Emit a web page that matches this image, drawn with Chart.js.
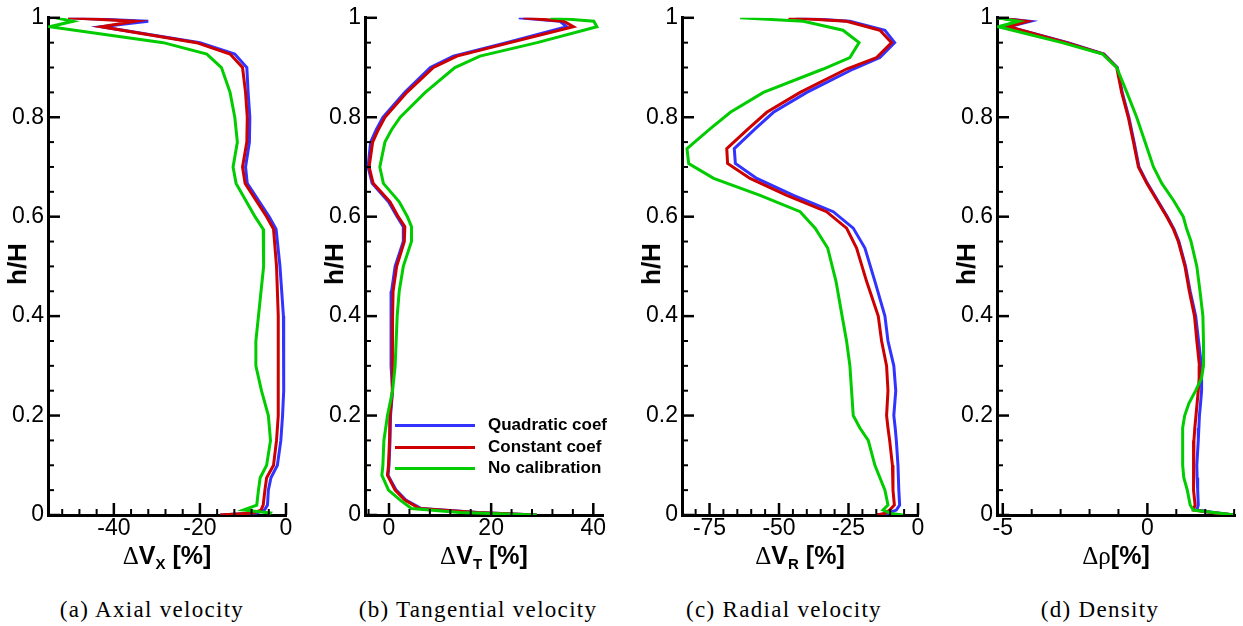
<!DOCTYPE html>
<html>
<head>
<meta charset="utf-8">
<script src="https://cdn.jsdelivr.net/npm/chart.js@4.4.1/dist/chart.umd.min.js"></script>
<style>
  body { margin: 0; background: #fff; }
  #fig { position: relative; width: 1243px; height: 626px; overflow: hidden; font-family: 'Liberation Sans', Arial, sans-serif; color: #000; }
  canvas { position: absolute; top: 0; }
  .ylab { position: absolute; top: 264px; font-weight: bold; font-size: 26px; line-height: 30px; transform: translate(-50%, -50%) rotate(-90deg); white-space: nowrap; }
  .xlab { position: absolute; top: 540px; height: 30px; line-height: 30px; font-weight: bold; font-size: 25px; transform: translateX(-50%); white-space: nowrap; }
  .xlab .g { font-family: 'Liberation Serif', serif; font-weight: normal; }
  .xlab sub { font-size: 15px; vertical-align: -5px; line-height: 0; }
  .cap { position: absolute; top: 597px; line-height: 26px; font-family: 'Liberation Serif', serif; font-size: 23px; letter-spacing: 1.3px; transform: translateX(-50%); white-space: nowrap; }
  .lg-line { position: absolute; left: 395px; width: 80px; height: 3px; }
  .lg-text { position: absolute; left: 488px; height: 20px; line-height: 20px; font-weight: bold; font-size: 17px; white-space: nowrap; }
</style>
</head>
<body>
<div id="fig">
  <canvas id="ca"></canvas>
  <canvas id="cb"></canvas>
  <canvas id="cc"></canvas>
  <canvas id="cd"></canvas>

  <div class="ylab" style="left:17px">h/H</div>
  <div class="ylab" style="left:334px">h/H</div>
  <div class="ylab" style="left:651px">h/H</div>
  <div class="ylab" style="left:966px">h/H</div>

  <div class="xlab" style="left:167px"><span class="g">Δ</span>V<sub>X</sub> [%]</div>
  <div class="xlab" style="left:484px"><span class="g">Δ</span>V<sub>T</sub> [%]</div>
  <div class="xlab" style="left:800px"><span class="g">Δ</span>V<sub>R</sub> [%]</div>
  <div class="xlab" style="left:1116px"><span class="g">Δρ</span>[%]</div>

  <div class="cap" style="left:152px">(a) Axial velocity</div>
  <div class="cap" style="left:478px">(b) Tangential velocity</div>
  <div class="cap" style="left:784px">(c) Radial velocity</div>
  <div class="cap" style="left:1100px">(d) Density</div>

  <div id="legend"></div>
</div>
<script>
// series names / colours
const seriesNames = ['Quadratic coef', 'Constant coef', 'No calibration'];
const seriesColors = ['#3333ff', '#cc0000', '#00cc00'];

const yTicks = [0, 0.2, 0.4, 0.6, 0.8, 1];

// (a) axial velocity
const hAxial = [1, 0.993, 0.982, 0.95, 0.927, 0.9, 0.85, 0.8, 0.75, 0.7, 0.667, 0.6, 0.575, 0.5, 0.45, 0.4, 0.35, 0.3, 0.25, 0.2, 0.15, 0.1, 0.075, 0.05, 0.02, 0.01, 0.004, 0];
const axialQuad = [-50.6, -32.0, -42.9, -20.0, -11.9, -9.1, -8.8, -8.4, -8.5, -9.4, -9.0, -3.9, -2.3, -1.4, -1.0, -0.6, -0.5, -0.5, -0.6, -0.8, -1.2, -2.0, -3.5, -4.1, -4.3, -5.0, -6.8, -15.3];
const axialConst = [-50.6, -35.1, -42.9, -20.8, -13.0, -10.1, -9.4, -9.0, -9.1, -10.1, -9.5, -4.5, -2.9, -2.2, -2.0, -1.8, -1.8, -1.8, -1.8, -1.8, -2.2, -2.9, -4.5, -4.9, -5.3, -5.8, -7.6, -15.3];
const axialNone = [-53.5, -49.5, -54.9, -28.5, -18.4, -15.0, -13.0, -11.9, -11.3, -12.3, -11.6, -7.2, -5.3, -5.2, -5.8, -6.4, -7.0, -7.0, -5.7, -4.1, -3.6, -4.5, -6.0, -6.4, -6.8, -9.9, -3.7, -4.1];
const xTicksAxial = [-40, -20, 0];

// (b) tangential velocity
const hTang = [1, 0.993, 0.982, 0.95, 0.923, 0.9, 0.85, 0.8, 0.775, 0.75, 0.7, 0.667, 0.63, 0.6, 0.58, 0.55, 0.5, 0.45, 0.4, 0.3, 0.25, 0.2, 0.15, 0.1, 0.08, 0.05, 0.03, 0.013, 0.005, 0];
const tangQuad = [25.4, 33.5, 34.8, 23.0, 12.6, 8.1, 3.1, -1.2, -2.5, -3.6, -4.1, -3.3, -0.1, 1.6, 2.8, 2.8, 1.2, 0.5, 0.4, 0.4, 0.7, 0.3, 0.2, 0.0, -0.2, 1.4, 3.3, 6.3, 17.5, 28.9];
const tangConst = [26.3, 34.2, 36.1, 23.7, 13.3, 8.7, 3.5, -0.8, -2.1, -3.2, -3.9, -3.1, 0.2, 1.8, 3.1, 3.0, 1.5, 0.8, 0.7, 0.6, 0.7, 0.2, 0.1, -0.1, -0.3, 1.2, 3.1, 6.0, 17.2, 28.9];
const tangNone = [31.6, 40.1, 40.7, 29.0, 17.8, 12.9, 7.1, 2.2, 0.5, -0.8, -1.8, -1.1, 2.0, 3.6, 4.4, 4.4, 2.8, 2.0, 1.6, 1.2, 0.7, -0.3, -1.0, -1.2, -1.4, -0.1, 2.2, 4.4, 13.9, 28.9];
const xTicksTang = [0, 20, 40];

// (c) radial velocity
const hRad = [1, 0.993, 0.975, 0.95, 0.92, 0.897, 0.85, 0.81, 0.777, 0.737, 0.707, 0.677, 0.643, 0.61, 0.577, 0.537, 0.47, 0.4, 0.35, 0.3, 0.25, 0.2, 0.175, 0.15, 0.1, 0.05, 0.02, 0.01, 0.003, 0];
const radQuad = [-44.0, -24.5, -11.9, -8.4, -13.7, -23.3, -40.0, -52.0, -58.5, -66.1, -65.7, -58.0, -44.8, -30.5, -23.3, -19.1, -15.5, -11.9, -10.8, -8.7, -8.0, -8.7, -8.2, -7.8, -7.2, -6.9, -6.6, -7.8, -11.0, -14.9];
const radConst = [-46.6, -25.7, -13.7, -9.5, -14.9, -25.7, -42.4, -54.4, -61.0, -68.8, -68.5, -60.4, -47.2, -32.9, -25.7, -22.1, -18.5, -14.3, -13.1, -11.3, -10.8, -11.3, -10.8, -10.2, -9.2, -9.0, -8.5, -10.2, -12.0, -14.9];
const radNone = [-64.0, -41.2, -27.0, -21.2, -24.5, -34.1, -55.6, -67.5, -74.7, -83.1, -82.5, -73.5, -56.8, -42.4, -37.0, -32.5, -29.5, -27.3, -25.7, -24.5, -23.9, -23.3, -20.9, -17.9, -15.5, -11.9, -10.8, -12.6, -9.6, -5.4];
const xTicksRad = [-75, -50, -25, 0];

// (d) density
const hDens = [1, 0.993, 0.982, 0.95, 0.927, 0.9, 0.85, 0.8, 0.75, 0.7, 0.667, 0.633, 0.6, 0.575, 0.55, 0.5, 0.45, 0.4, 0.35, 0.3, 0.275, 0.25, 0.225, 0.2, 0.175, 0.15, 0.1, 0.075, 0.05, 0.02, 0.01, 0.005, 0];
const densQuad = [-5.2, -4.06, -4.8, -2.75, -1.5, -1.04, -0.87, -0.64, -0.46, -0.29, 0.0, 0.35, 0.69, 0.92, 1.09, 1.32, 1.48, 1.67, 1.77, 1.87, 1.88, 1.87, 1.84, 1.80, 1.78, 1.76, 1.71, 1.72, 1.74, 1.76, 1.71, 2.3, 3.0];
const densConst = [-5.2, -4.17, -4.8, -2.8, -1.52, -1.06, -0.89, -0.66, -0.48, -0.31, -0.02, 0.33, 0.67, 0.9, 1.07, 1.30, 1.45, 1.63, 1.71, 1.80, 1.79, 1.76, 1.72, 1.68, 1.64, 1.61, 1.59, 1.59, 1.61, 1.65, 1.59, 2.2, 3.0];
const densNone = [-5.2, -4.46, -5.15, -2.95, -1.55, -1.06, -0.71, -0.37, -0.08, 0.21, 0.50, 0.9, 1.24, 1.36, 1.51, 1.71, 1.82, 1.92, 1.94, 1.94, 1.87, 1.67, 1.44, 1.29, 1.22, 1.22, 1.22, 1.26, 1.38, 1.48, 1.59, 2.28, 3.03];
const xTicksDens = [-5, 0];

// ticks drawn inwards, majors on tick values, minors in between
const innerTicks = {
  id: 'innerTicks',
  afterDraw(chart, args, opts) {
    const {ctx, chartArea} = chart;
    const x = chart.scales.x, y = chart.scales.y;
    ctx.save();
    ctx.strokeStyle = '#000';
    function each(scale, step, fn) {
      const majors = scale.ticks.map(t => t.value);
      for (let k = Math.ceil(scale.min / step - 1e-6); k * step <= scale.max + 1e-6; k++) {
        const v = k * step;
        const major = majors.some(m => Math.abs(m - v) < step * 1e-3);
        fn(scale.getPixelForValue(v), major);
      }
    }
    each(x, opts.xMinor, (px, major) => {
      ctx.lineWidth = major ? 2.5 : 2;
      ctx.beginPath();
      ctx.moveTo(px, chartArea.bottom);
      ctx.lineTo(px, chartArea.bottom - (major ? 12 : 6));
      ctx.stroke();
    });
    each(y, opts.yMinor, (py, major) => {
      ctx.lineWidth = major ? 2.5 : 2;
      ctx.beginPath();
      ctx.moveTo(chartArea.left, py);
      ctx.lineTo(chartArea.left + (major ? 12 : 6), py);
      ctx.stroke();
    });
    ctx.restore();
  }
};

Chart.defaults.font.family = "'Liberation Sans', Arial, sans-serif";
Chart.defaults.font.size = 23;
Chart.defaults.color = '#000';

function pts(h, v) {
  return v.map((x, i) => ({x: x, y: h[i]}));
}

function makeChart(id, p, h, series, xTicks) {
  const cv = document.getElementById(id);
  cv.width = p.pR - p.pL + 74;
  cv.height = 560;
  cv.style.left = (p.pL - 60) + 'px';
  return new Chart(cv, {
    type: 'line',
    data: {
      datasets: series.map((v, i) => ({
        label: seriesNames[i],
        data: pts(h, v),
        borderColor: seriesColors[i],
        backgroundColor: seriesColors[i],
        borderWidth: 3,
        pointRadius: 0,
        tension: 0,
        fill: false,
        order: 3 - i
      }))
    },
    options: {
      responsive: false,
      animation: false,
      devicePixelRatio: 1,
      layout: {padding: {left: 0, right: 14, top: 15, bottom: 0}},
      plugins: {
        legend: {display: false},
        tooltip: {enabled: false},
        innerTicks: {xMinor: p.minor, yMinor: 0.05}
      },
      scales: {
        x: {
          type: 'linear', position: 'bottom', min: p.xMin, max: p.xMax,
          afterBuildTicks: s => { s.ticks = xTicks.map(value => ({value})); },
          afterFit: s => { s.height = 45; },
          grid: {display: false, drawTicks: false},
          border: {color: '#000', width: 3},
          ticks: {padding: 0, maxRotation: 0, autoSkip: false, callback: v => String(v)}
        },
        y: {
          type: 'linear', position: 'left', min: 0, max: 1,
          afterBuildTicks: s => { s.ticks = yTicks.map(value => ({value})); },
          afterFit: s => { s.width = 60; },
          grid: {display: false, drawTicks: false},
          border: {color: '#000', width: 3},
          ticks: {padding: 4, autoSkip: false, callback: v => String(v)}
        }
      }
    },
    plugins: [innerTicks]
  });
}

makeChart('ca', {pL: 48, pR: 286, xMin: -55.3, xMax: 0, minor: 4}, hAxial, [axialQuad, axialConst, axialNone], xTicksAxial);
let chartB = makeChart('cb', {pL: 365, pR: 603, xMin: -4.7, xMax: 41.9, minor: 4}, hTang, [tangQuad, tangConst, tangNone], xTicksTang);
makeChart('cc', {pL: 682, pR: 918, xMin: -84.9, xMax: 0, minor: 5}, hRad, [radQuad, radConst, radNone], xTicksRad);
makeChart('cd', {pL: 997, pR: 1235, xMin: -5.2, xMax: 3.03, minor: 1}, hDens, [densQuad, densConst, densNone], xTicksDens);

// legend inside panel (b)
let lg = document.getElementById('legend');
let rowsY = [425, 447, 468];
chartB.data.datasets.forEach((ds, i) => {
  let line = document.createElement('div');
  line.className = 'lg-line';
  line.style.top = (rowsY[i] - 1.5) + 'px';
  line.style.background = ds.borderColor;
  lg.appendChild(line);
  let txt = document.createElement('div');
  txt.className = 'lg-text';
  txt.style.top = (rowsY[i] - 10) + 'px';
  txt.textContent = ds.label;
  lg.appendChild(txt);
});
</script>
</body>
</html>
